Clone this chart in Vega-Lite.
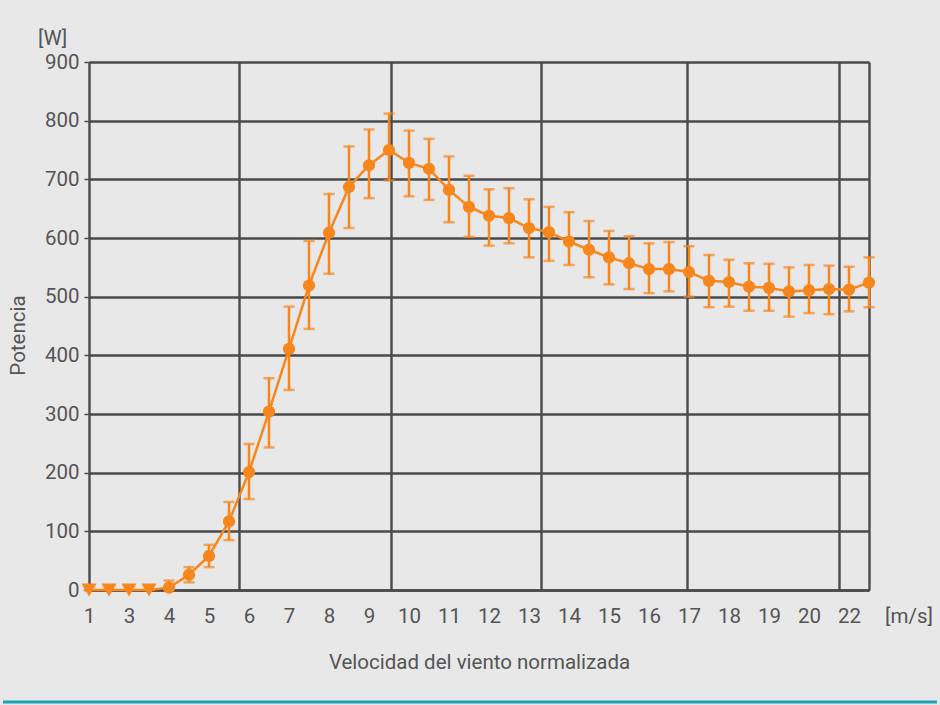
{
  "$schema": "https://vega.github.io/schema/vega-lite/v6.json",
  "width": 780,
  "height": 528,
  "autosize": {"type": "none"},
  "padding": {"left": 89, "top": 62, "right": 71, "bottom": 115},
  "background": "#e8e8e8",
  "config": {
    "view": {"stroke": null},
    "font": "Roboto",
    "axis": {
      "labelFont": "Roboto",
      "labelFontSize": 20.5,
      "labelColor": "#555555",
      "labelOverlap": false,
      "labelFlush": false,
      "titleFont": "Roboto",
      "titleFontSize": 20.5,
      "titleFontWeight": "normal",
      "titleColor": "#555555",
      "gridColor": "#4a4a4a",
      "gridWidth": 2.4,
      "domainColor": "#4a4a4a",
      "domainWidth": 2.4
    }
  },
  "title": {
    "text": "[W]",
    "anchor": "start",
    "frame": "group",
    "dx": -51,
    "offset": 3,
    "fontSize": 20.5,
    "fontWeight": "normal",
    "color": "#555555",
    "font": "Roboto"
  },
  "data": {
    "values": [
      {"i": 0, "p": 0, "lo": 0, "hi": 7},
      {"i": 1, "p": 0, "lo": 0, "hi": 7},
      {"i": 2, "p": 0, "lo": 0, "hi": 7},
      {"i": 3, "p": 0, "lo": 0, "hi": 7},
      {"i": 4, "p": 4, "lo": 0, "hi": 16},
      {"i": 5, "p": 26, "lo": 13, "hi": 39},
      {"i": 6, "p": 58, "lo": 39, "hi": 77},
      {"i": 7, "p": 117, "lo": 85, "hi": 150},
      {"i": 8, "p": 201, "lo": 155, "hi": 249},
      {"i": 9, "p": 304, "lo": 243, "hi": 361},
      {"i": 10, "p": 411, "lo": 341, "hi": 483},
      {"i": 11, "p": 519, "lo": 445, "hi": 595},
      {"i": 12, "p": 609, "lo": 539, "hi": 675},
      {"i": 13, "p": 687, "lo": 617, "hi": 756},
      {"i": 14, "p": 724, "lo": 668, "hi": 785},
      {"i": 15, "p": 750, "lo": 698, "hi": 812},
      {"i": 16, "p": 728, "lo": 671, "hi": 783},
      {"i": 17, "p": 718, "lo": 665, "hi": 769},
      {"i": 18, "p": 682, "lo": 627, "hi": 739},
      {"i": 19, "p": 653, "lo": 602, "hi": 706},
      {"i": 20, "p": 638, "lo": 587, "hi": 683},
      {"i": 21, "p": 634, "lo": 591, "hi": 685},
      {"i": 22, "p": 617, "lo": 567, "hi": 666},
      {"i": 23, "p": 610, "lo": 561, "hi": 653},
      {"i": 24, "p": 594, "lo": 554, "hi": 644},
      {"i": 25, "p": 580, "lo": 533, "hi": 629},
      {"i": 26, "p": 567, "lo": 521, "hi": 612},
      {"i": 27, "p": 557, "lo": 513, "hi": 603},
      {"i": 28, "p": 547, "lo": 506, "hi": 591},
      {"i": 29, "p": 547, "lo": 509, "hi": 593},
      {"i": 30, "p": 542, "lo": 500, "hi": 586},
      {"i": 31, "p": 527, "lo": 482, "hi": 571},
      {"i": 32, "p": 525, "lo": 483, "hi": 563},
      {"i": 33, "p": 517, "lo": 476, "hi": 557},
      {"i": 34, "p": 515, "lo": 476, "hi": 556},
      {"i": 35, "p": 509, "lo": 466, "hi": 550},
      {"i": 36, "p": 511, "lo": 472, "hi": 554},
      {"i": 37, "p": 513, "lo": 470, "hi": 553},
      {"i": 38, "p": 512, "lo": 475, "hi": 551},
      {"i": 39, "p": 524, "lo": 482, "hi": 567}
    ]
  },
  "layer": [
    {
      "mark": {"type": "rule", "color": "#f7861c", "strokeWidth": 2.5},
      "encoding": {
        "x": {
          "field": "i",
          "type": "quantitative",
          "title": "Velocidad del viento normalizada",
          "scale": {"domain": [0, 39], "nice": false, "zero": false},
          "axis": {
            "values": [0, 2, 4, 6, 7.5, 8, 10, 12, 14, 15.1, 16, 18, 20, 22, 22.6, 24, 26, 28, 29.9, 30, 32, 34, 36, 37.5, 38, 39],
            "tickCount": 100,
            "labelExpr": "datum.value % 2 == 0 ? ['1','3','4','5','6','7','8','9','10','11','12','13','14','15','16','17','18','19','20','22'][datum.value / 2] : ''",
            "labelOverlap": false,
            "labelFlush": false,
            "ticks": false,
            "labelPadding": 16,
            "grid": true,
            "gridOpacity": {"condition": {"test": "datum.value % 2 != 0", "value": 1}, "value": 0},
            "titlePadding": 26
          }
        },
        "y": {
          "field": "lo",
          "type": "quantitative",
          "title": "Potencia",
          "scale": {"domain": [0, 900], "nice": false},
          "axis": {
            "values": [0, 100, 200, 300, 400, 500, 600, 700, 800, 900],
            "tickCount": 20,
            "grid": true,
            "tickColor": "#4a4a4a",
            "tickSize": 5,
            "tickWidth": 1.5,
            "labelPadding": 5,
            "titlePadding": 16,
            "titleY": 273
          }
        },
        "y2": {"field": "hi"}
      }
    },
    {
      "mark": {"type": "tick", "orient": "horizontal", "size": 11, "thickness": 2.5, "color": "#f7861c"},
      "encoding": {
        "x": {"field": "i", "type": "quantitative", "title": "Velocidad del viento normalizada"},
        "y": {"field": "hi", "type": "quantitative", "title": "Potencia"}
      }
    },
    {
      "mark": {"type": "tick", "orient": "horizontal", "size": 11, "thickness": 2.5, "color": "#f7861c"},
      "encoding": {
        "x": {"field": "i", "type": "quantitative", "title": "Velocidad del viento normalizada"},
        "y": {"field": "lo", "type": "quantitative", "title": "Potencia"}
      }
    },
    {
      "mark": {"type": "line", "color": "#f7861c", "strokeWidth": 2.5},
      "encoding": {
        "x": {"field": "i", "type": "quantitative", "title": "Velocidad del viento normalizada"},
        "y": {"field": "p", "type": "quantitative", "title": "Potencia"}
      }
    },
    {
      "mark": {"type": "point", "filled": true, "opacity": 1, "color": "#f7861c"},
      "encoding": {
        "x": {"field": "i", "type": "quantitative", "title": "Velocidad del viento normalizada"},
        "y": {"field": "p", "type": "quantitative", "title": "Potencia"},
        "shape": {"condition": {"test": "datum.p == 0", "value": "triangle-down"}, "value": "circle"},
        "size": {"condition": {"test": "datum.p == 0", "value": 230}, "value": 150}
      }
    },
    {
      "data": {"values": [{"t": "[m/s]"}]},
      "mark": {"type": "text", "fontSize": 20.5, "color": "#555555", "font": "Roboto", "baseline": "middle", "align": "center", "dy": 27},
      "encoding": {
        "x": {"datum": 41, "type": "quantitative", "title": "Velocidad del viento normalizada"},
        "y": {"datum": 0, "type": "quantitative", "title": "Potencia"},
        "text": {"field": "t"}
      }
    },
    {
      "data": {"values": [{"t": "edge"}]},
      "mark": {"type": "rule", "color": "#1aa3b6", "strokeWidth": 3},
      "encoding": {
        "x": {"datum": -4.3, "type": "quantitative", "title": "Velocidad del viento normalizada"},
        "x2": {"datum": 42.4},
        "y": {"datum": -191, "type": "quantitative", "title": "Potencia"}
      }
    }
  ]
}
